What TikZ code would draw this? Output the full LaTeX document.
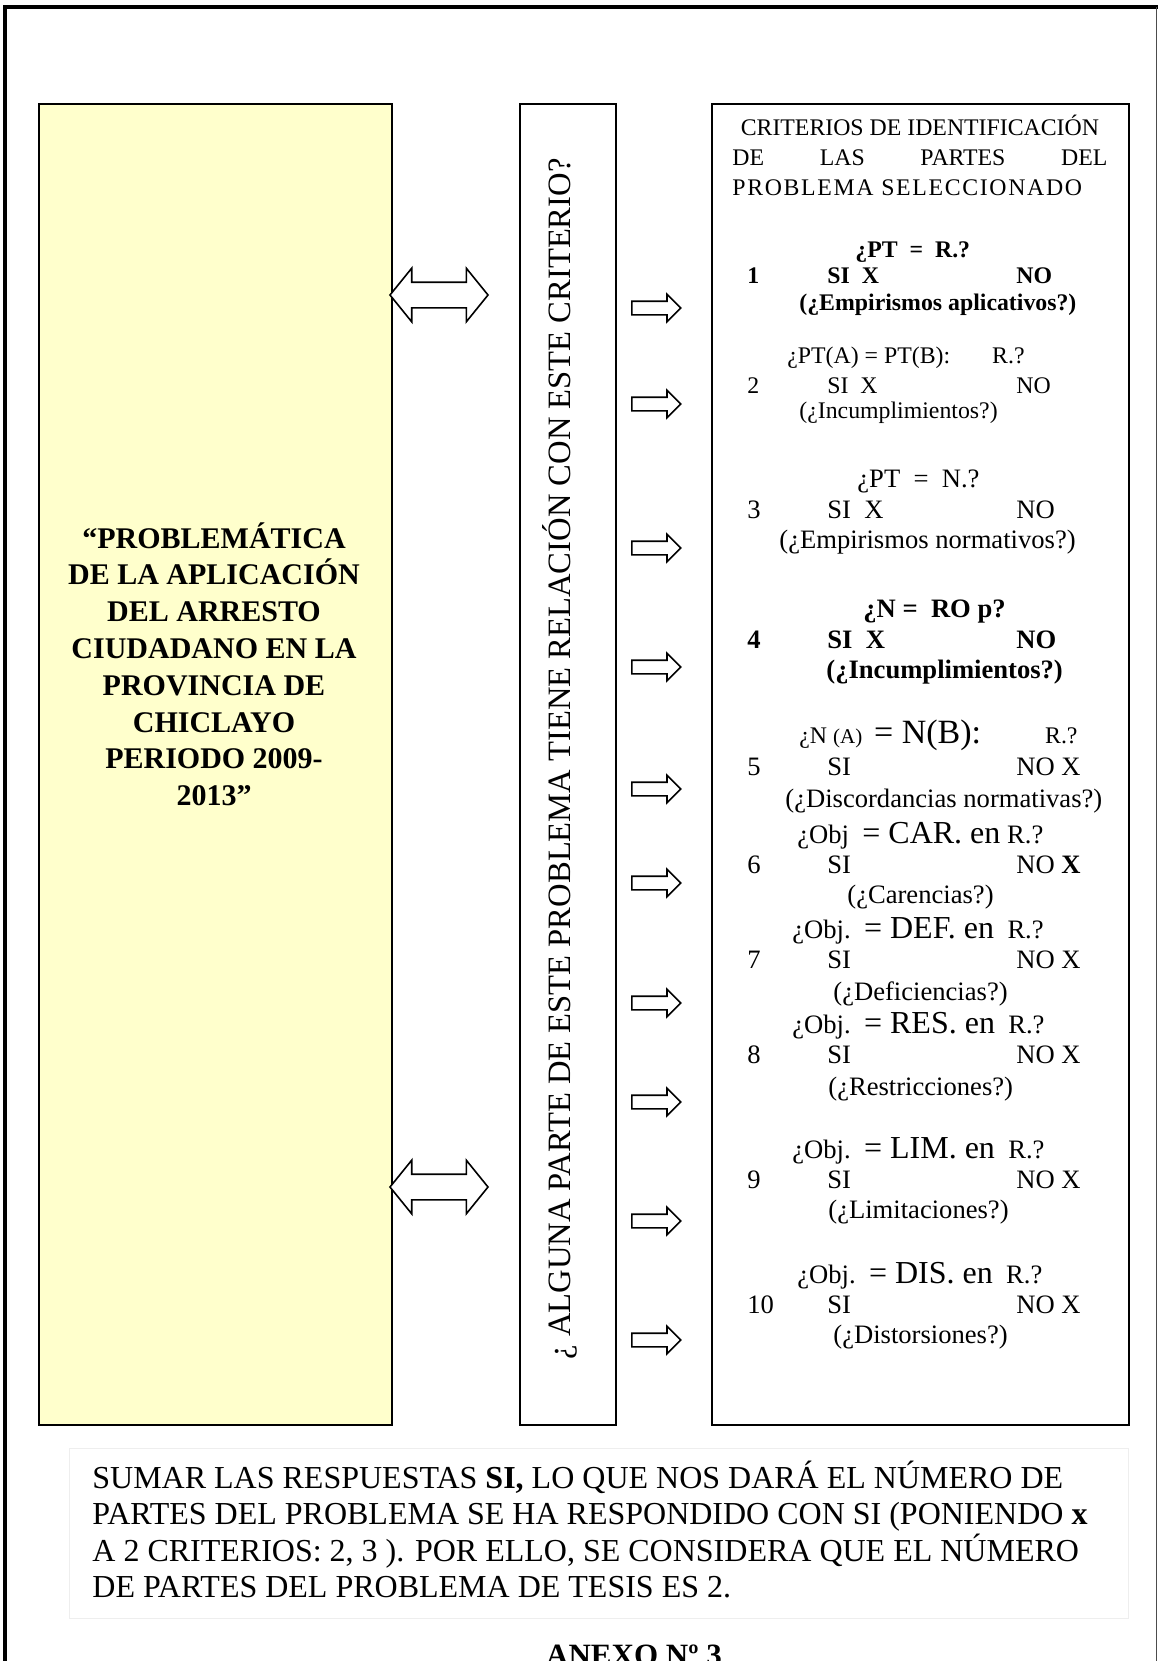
\documentclass[tikz,border=0pt]{standalone}
\usepackage{fontspec}
\setmainfont{Liberation Serif}
\usetikzlibrary{shapes.arrows}
\definecolor{temayel}{RGB}{255,255,204}
\definecolor{notagray}{RGB}{238,238,238}
\tikzset{
  caja/.style={rectangle, draw=black, line width=1pt, anchor=north west, inner sep=0pt},
  crit/.style={anchor=base west, inner sep=0pt, font=\fontsize{11.9}{15}\selectfont},
  critb/.style={crit, font=\fontsize{11.9}{15}\selectfont\bfseries},
  critm/.style={crit, font=\fontsize{13.3}{15}\selectfont},
  critmb/.style={crit, font=\fontsize{13.3}{15}\selectfont\bfseries},
  dflecha/.style={double arrow, draw=black, fill=white, line width=0.8pt,
    inner xsep=0pt, inner ysep=6pt, text height=0pt, text depth=0pt,
    minimum height=49pt, double arrow head extend=7pt, double arrow tip angle=102},
  flecha/.style={single arrow, draw=black, fill=white, line width=0.8pt,
    inner xsep=0pt, inner ysep=3pt, text height=0pt, text depth=0pt,
    minimum height=24.5pt, single arrow head extend=3.5pt, single arrow tip angle=90, anchor=tail}
}
\newcommand{\grande}{\fontsize{16}{18}\selectfont}

\begin{document}
\begin{tikzpicture}[x=0.5pt, y=-0.5pt]
  \useasboundingbox (0,0) rectangle (1158,1661);

  % Page frame
  \draw[line width=2pt, line join=miter] (5,1661) -- (5,7) -- (1158,7);
  \draw[line width=0.5pt, black!70] (1156,7) -- (1156,1661);

  % Boxes
  \node[caja, fill=temayel, line width=1.2pt, minimum width=176.5pt, minimum height=660.5pt] (tema) at (38,103) {};
  \node[caja, minimum width=48pt, minimum height=660.5pt] (pregbox) at (519,103) {};
  \node[caja, minimum width=208.5pt, minimum height=660.5pt] (critbox) at (711,103) {};

  % Problem title
  \node[anchor=base, inner sep=0pt, font=\fontsize{15}{18.4}\selectfont\bfseries] (titulo) at (214,548)
    {\parbox[t]{172pt}{\centering “PROBLEMÁTICA\\ DE LA APLICACIÓN\\ DEL ARRESTO\\ CIUDADANO EN LA\\ PROVINCIA DE\\ CHICLAYO\\ PERIODO 2009-\\ 2013”}};

  % Question
  \node[rotate=90, anchor=base, inner sep=0pt, font=\fontsize{16.3}{18}\selectfont] (preg) at (570,759)
    {¿ ALGUNA PARTE DE ESTE PROBLEMA TIENE RELACIÓN CON ESTE CRITERIO?};

  % Double arrows
  \node[dflecha] (fd1) at (439,295) {};
  \node[dflecha] (fd2) at (439,1187) {};

  % Single arrows
  \node[flecha] (f1) at (631,308) {};
  \node[flecha] (f2) at (631,404) {};
  \node[flecha] (f3) at (631,548) {};
  \node[flecha] (f4) at (631,667) {};
  \node[flecha] (f5) at (631,789) {};
  \node[flecha] (f6) at (631,883) {};
  \node[flecha] (f7) at (631,1003) {};
  \node[flecha] (f8) at (631,1102) {};
  \node[flecha] (f9) at (631,1221) {};
  \node[flecha] (f10) at (631,1340) {};

  % Criteria header
  \node[crit] (crithdr) at (732,135)
    {\parbox[t]{187.5pt}{\raggedright\makebox[\linewidth][c]{CRITERIOS DE IDENTIFICACIÓN}\\
     \makebox[\linewidth][s]{DE LAS PARTES DEL}\\ {\addfontfeature{LetterSpace=7}PROBLEMA SELECCIONADO}}};

  % Criterion 1
  \node[critb] (q1) at (855,257) {¿PT\ \ =\ \ R.?};
  \node[critb] (r1) at (747,283) {\makebox[40pt][l]{1}\makebox[94.5pt][l]{SI\ \ X}NO};
  \node[critb] (p1) at (799,310) {(¿Empirismos aplicativos?)};

  % Criterion 2
  \node[crit] (q2) at (787,363) {¿PT(A) = PT(B):\hspace{21pt}R.?};
  \node[crit] (r2) at (747,393) {\makebox[40pt][l]{2}\makebox[94.5pt][l]{SI\ \ X}NO};
  \node[crit] (p2) at (799,418) {(¿Incumplimientos?)};

  % Criterion 3
  \node[critm] (q3) at (857,487) {¿PT\ \ =\ \ N.?};
  \node[critm] (r3) at (747,518) {\makebox[40pt][l]{3}\makebox[94.5pt][l]{SI\ \ X}NO};
  \node[critm] (p3) at (779,548) {(¿Empirismos normativos?)};

  % Criterion 4
  \node[critmb] (q4) at (863,617) {¿N =\ \ RO p?};
  \node[critmb] (r4) at (747,648) {\makebox[40pt][l]{4}\makebox[94.5pt][l]{SI\ \ X}NO};
  \node[critmb] (p4) at (826,678) {(¿Incumplimientos?)};

  % Criterion 5
  \node[crit] (q5) at (799,743) {¿N {\fontsize{10.5}{12}\selectfont(A)}\ \ {\fontsize{17}{19}\selectfont= N(B):}\hspace{32pt}R.?};
  \node[critm] (r5) at (747,775) {\makebox[40pt][l]{5}\makebox[94.5pt][l]{SI}NO X};
  \node[critm] (p5) at (785,807) {(¿Discordancias normativas?)};

  % Criterion 6
  \node[critm] (q6) at (797,843) {¿Obj\ \ {\grande= CAR. en} R.?};
  \node[critm] (r6) at (747,873) {\makebox[40pt][l]{6}\makebox[94.5pt][l]{SI}NO \textbf{X}};
  \node[critm] (p6) at (847,903) {(¿Carencias?)};

  % Criterion 7
  \node[critm] (q7) at (792,938) {¿Obj.\ \ {\grande= DEF. en}\ \ R.?};
  \node[critm] (r7) at (747,968) {\makebox[40pt][l]{7}\makebox[94.5pt][l]{SI}NO X};
  \node[critm] (p7) at (833,1000) {(¿Deficiencias?)};

  % Criterion 8
  \node[critm] (q8) at (792,1033) {¿Obj.\ \ {\grande= RES. en}\ \ R.?};
  \node[critm] (r8) at (747,1063) {\makebox[40pt][l]{8}\makebox[94.5pt][l]{SI}NO X};
  \node[critm] (p8) at (828,1095) {(¿Restricciones?)};

  % Criterion 9
  \node[critm] (q9) at (792,1158) {¿Obj.\ \ {\grande= LIM. en}\ \ R.?};
  \node[critm] (r9) at (747,1188) {\makebox[40pt][l]{9}\makebox[94.5pt][l]{SI}NO X};
  \node[critm] (p9) at (828,1218) {(¿Limitaciones?)};

  % Criterion 10
  \node[critm] (q10) at (797,1283) {¿Obj.\ \ {\grande= DIS. en}\ \ R.?};
  \node[critm] (r10) at (747,1313) {\makebox[40pt][l]{10}\makebox[94.5pt][l]{SI}NO X};
  \node[critm] (p10) at (833,1343) {(¿Distorsiones?)};

  % Note
  \node[caja, draw=notagray, line width=0.5pt, minimum width=529.5pt, minimum height=85pt] (notabox) at (69,1448) {};
  \node[anchor=base west, inner sep=0pt, font=\fontsize{16}{18.3}\selectfont] (nota) at (92,1488)
    {\parbox[t]{520pt}{\raggedright SUMAR LAS RESPUESTAS \textbf{SI,} LO QUE NOS DARÁ EL NÚMERO DE\\
     PARTES DEL PROBLEMA SE HA RESPONDIDO CON SI (PONIENDO \textbf{x}\\
     A 2 CRITERIOS: 2, 3 ). POR ELLO, SE CONSIDERA QUE EL NÚMERO\\
     DE PARTES DEL PROBLEMA DE TESIS ES 2.}};

  % Caption
  \node[anchor=base, inner sep=0pt, font=\fontsize{15.5}{18}\selectfont\bfseries] (anexo) at (634,1665) {ANEXO Nº 3};

\end{tikzpicture}
\end{document}
